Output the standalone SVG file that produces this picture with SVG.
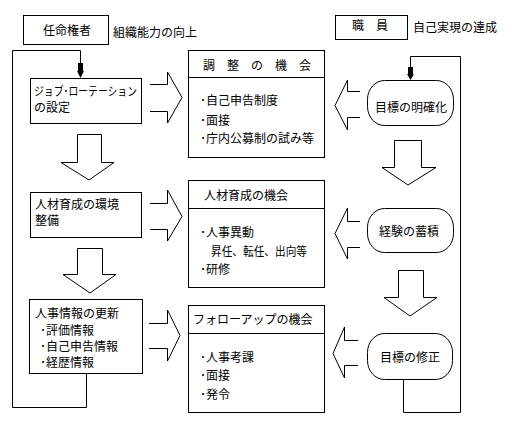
<svg xmlns="http://www.w3.org/2000/svg" width="506" height="422" viewBox="0 0 506 422">
<style>
text{font-family:"Noto Sans CJK JP","Noto Sans CJK SC",sans-serif;font-size:12px;fill:#000}
.b{fill:#fff;stroke:#000;stroke-width:1}
.l{fill:none;stroke:#000;stroke-width:1}
.c{text-anchor:middle}
</style>
<rect width="506" height="422" fill="#fff"/>
<g id="connectors">
<polyline class="l" points="80.5,64 80.5,50.5 12.5,50.5 12.5,407.5 86.5,407.5 86.5,373"/>
<polygon points="78,63 83,63 83,71 84,71 80.5,78 77,71 78,71" fill="#000"/>
<polyline class="l" points="410.5,68 410.5,56.5 460.5,56.5 460.5,412.5 403.5,412.5 403.5,379"/>
<polygon points="408,67 413,67 413,74 414,74 410.5,80 407,74 408,74" fill="#000"/>
<polyline class="b" points="150,84.5 167.5,84.5 167.5,72 182,97.5 167.5,123 167.5,111.5 150,111.5"/>
<polyline class="b" points="150,203.5 167.5,203.5 167.5,190 182,216.5 167.5,241 167.5,229.5 150,229.5"/>
<polyline class="b" points="149,323.5 167.5,323.5 167.5,310 180,335.5 167.5,361 167.5,348.5 149,348.5"/>
<polygon class="b" points="77.5,134.5 101.5,134.5 101.5,162.5 114,162.5 89,180 61,162.5 77.5,162.5"/>
<polygon class="b" points="77.5,248.5 102.5,248.5 102.5,274.5 116,274.5 90,293 63,274.5 77.5,274.5"/>
<polyline class="b" points="360,91.5 347.5,91.5 347.5,80 335,105.5 347.5,130 347.5,117.5 360,117.5"/>
<polyline class="b" points="360,221.5 347.5,221.5 347.5,208 335,233.5 347.5,259 347.5,247.5 360,247.5"/>
<polyline class="b" points="358,340.5 344.5,340.5 344.5,327 333,353.5 344.5,378 344.5,365.5 358,365.5"/>
<polygon class="b" points="394.5,140.5 421.5,140.5 421.5,167.5 436,167.5 408,185 382,167.5 394.5,167.5"/>
<polygon class="b" points="398.5,270.5 423.5,270.5 423.5,297.5 437,297.5 410,316 384,297.5 398.5,297.5"/>
</g>
<g id="ninmei">
<rect class="b" x="23.5" y="15.5" width="85" height="29"/>
<text x="43" y="34.5">任命権者</text>
<text x="113" y="36.5">組織能力の向上</text>
</g>
<g id="shokuin">
<rect class="b" x="335.5" y="15.5" width="72" height="24"/>
<text x="352" y="29.5">職　員</text>
<text x="413" y="31.5">自己実現の達成</text>
</g>
<g id="job">
<rect class="b" x="30.5" y="78.5" width="111" height="45"/>
<text x="34" y="95.5" textLength="103" lengthAdjust="spacingAndGlyphs">ジョブ･ローテーション</text>
<text x="34" y="111.5">の設定</text>
</g>
<g id="kankyo">
<rect class="b" x="30.5" y="192.5" width="111" height="45"/>
<text x="35" y="208.5">人材育成の環境</text>
<text x="35" y="224.5">整備</text>
</g>
<g id="jinji">
<rect class="b" x="29.5" y="299.5" width="113" height="74"/>
<text x="35" y="317.5">人事情報の更新</text>
<text x="40" y="334.5">･評価情報</text>
<text x="40" y="350.5">･自己申告情報</text>
<text x="40" y="366.5">･経歴情報</text>
</g>
<g id="chosei">
<rect class="b" x="188.5" y="50.5" width="136" height="107"/>
<line class="l" x1="188" y1="77.5" x2="325" y2="77.5"/>
<text x="203" y="69.5">調　整　の　機　会</text>
<text x="200" y="104.5">･自己申告制度</text>
<text x="200" y="124.5">･面接</text>
<text x="200" y="142.5">･庁内公募制の試み等</text>
</g>
<g id="ikusei">
<rect class="b" x="188.5" y="180.5" width="136" height="107"/>
<line class="l" x1="188" y1="208.5" x2="325" y2="208.5"/>
<text x="204" y="199.5">人材育成の機会</text>
<text x="200" y="236.5">･人事異動</text>
<text x="211" y="255.5" textLength="96" lengthAdjust="spacingAndGlyphs">昇任、転任、出向等</text>
<text x="200" y="273.5">･研修</text>
</g>
<g id="follow">
<rect class="b" x="188.5" y="305.5" width="136" height="107"/>
<line class="l" x1="188" y1="333.5" x2="325" y2="333.5"/>
<text x="193" y="323.5">フォローアップの機会</text>
<text x="200" y="361.5">･人事考課</text>
<text x="200" y="379.5">･面接</text>
<text x="200" y="398.5">･発令</text>
</g>
<g id="meikaku">
<rect class="b" x="367.5" y="80.5" width="86" height="45" rx="17" ry="19"/>
<text class="c" x="411" y="111.5">目標の明確化</text>
</g>
<g id="chikuseki">
<rect class="b" x="367.5" y="208.5" width="86" height="44" rx="17" ry="19"/>
<text class="c" x="409" y="235.5">経験の蓄積</text>
</g>
<g id="shusei">
<rect class="b" x="367.5" y="333.5" width="85" height="46" rx="17" ry="19"/>
<text class="c" x="410" y="361.5">目標の修正</text>
</g>
</svg>
